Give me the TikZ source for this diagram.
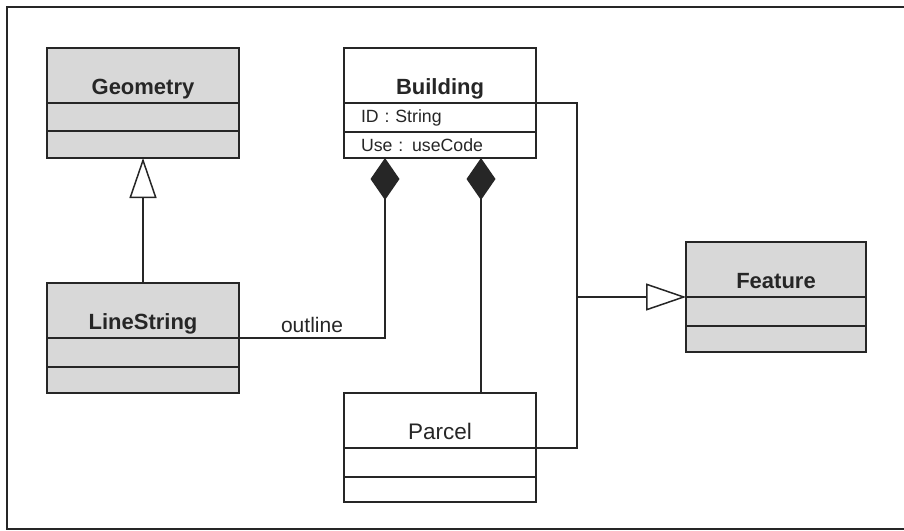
\documentclass[tikz,border=0pt]{standalone}
\usepackage{fontspec}
\setmainfont{Liberation Sans}
\usepackage{xcolor}
\usepackage{tikz}
\usetikzlibrary{positioning, arrows.meta}
\definecolor{uInk}{HTML}{262626}
\definecolor{uShade}{HTML}{D8D8D8}
\tikzset{
  classhead/.style={draw=uInk, line width=1.6pt, outer sep=0pt, minimum width=192pt,
    minimum height=55pt, inner ysep=0pt, text height=42pt, text depth=5pt,
    font=\fontsize{22}{26}\selectfont\bfseries, text=uInk},
  classpart/.style={draw=uInk, line width=1.6pt, outer sep=0pt, minimum height=28pt,
    inner xsep=17pt, inner ysep=0pt, text width=158pt, align=left,
    font=\fontsize{17.7}{20}\selectfont, text=uInk},
  shadedhead/.style={classhead, fill=uShade},
  shadedpart/.style={classpart, fill=uShade},
  link/.style={draw=uInk, line width=1.5pt},
  inherits/.style={link, -{Triangle[length=40pt, width=27pt, fill=white]}},
  owns/.style={link, {Diamond[length=42pt, width=29pt, fill=uInk]}-},
}
\begin{document}
\begin{tikzpicture}[x=1pt, y=-1pt]
  \useasboundingbox (0,0) rectangle (904,530);
  \draw[uInk, line width=1.8pt] (904,7) -- (7,7) -- (7,529) -- (904,529);

  \node[shadedhead, anchor=north west] (geoHead) at (47,48) {Geometry};
  \node[shadedpart, below=0pt of geoHead] (geoAttr) {};
  \node[shadedpart, minimum height=27pt, below=0pt of geoAttr] (geoOps) {};

  \node[classhead, anchor=north west] (bldHead) at (344,48) {Building};
  \node[classpart, minimum height=29pt, below=0pt of bldHead] (bldAttr) {ID : String};
  \node[classpart, minimum height=26pt, below=0pt of bldAttr] (bldOps) {Use : useCode};

  \node[shadedhead, anchor=north west] (lsHead) at (47,283) {LineString};
  \node[shadedpart, minimum height=29pt, below=0pt of lsHead] (lsAttr) {};
  \node[shadedpart, minimum height=26pt, below=0pt of lsAttr] (lsOps) {};

  \node[classhead, anchor=north west, font=\fontsize{22.5}{26}\selectfont] (parcelHead) at (344,393) {Parcel};
  \node[classpart, minimum height=29pt, below=0pt of parcelHead] (parcelAttr) {};
  \node[classpart, minimum height=25pt, below=0pt of parcelAttr] (parcelOps) {};

  \node[shadedhead, minimum width=180pt, anchor=north west] (featHead) at (686,242) {Feature};
  \node[shadedpart, text width=146pt, minimum height=29pt, below=0pt of featHead] (featAttr) {};
  \node[shadedpart, text width=146pt, minimum height=26pt, below=0pt of featAttr] (featOps) {};

  \coordinate (outlineEnd) at ([xshift=41pt]bldOps.south west);
  \coordinate (parcelEnd) at ([xshift=137pt]bldOps.south west);
  \coordinate (featJoin) at ([xshift=41pt]bldHead.south east);

  \draw[inherits] (lsHead.north) -- (geoOps.south);
  \draw[owns] (outlineEnd) |- node[pos=0.75, above=5pt, inner sep=0pt, text=uInk,
    font=\fontsize{21}{24}\selectfont] (outlineLbl) {outline} (lsHead.south east);
  \draw[owns] (parcelEnd) -- (parcelEnd |- parcelHead.north);
  \draw[link] (bldHead.south east) -- (featJoin) -- (featJoin |- parcelHead.south)
    -- (parcelHead.south east);
  \draw[inherits] (featJoin |- featHead.south) -- (featHead.south west);
\end{tikzpicture}
\end{document}
